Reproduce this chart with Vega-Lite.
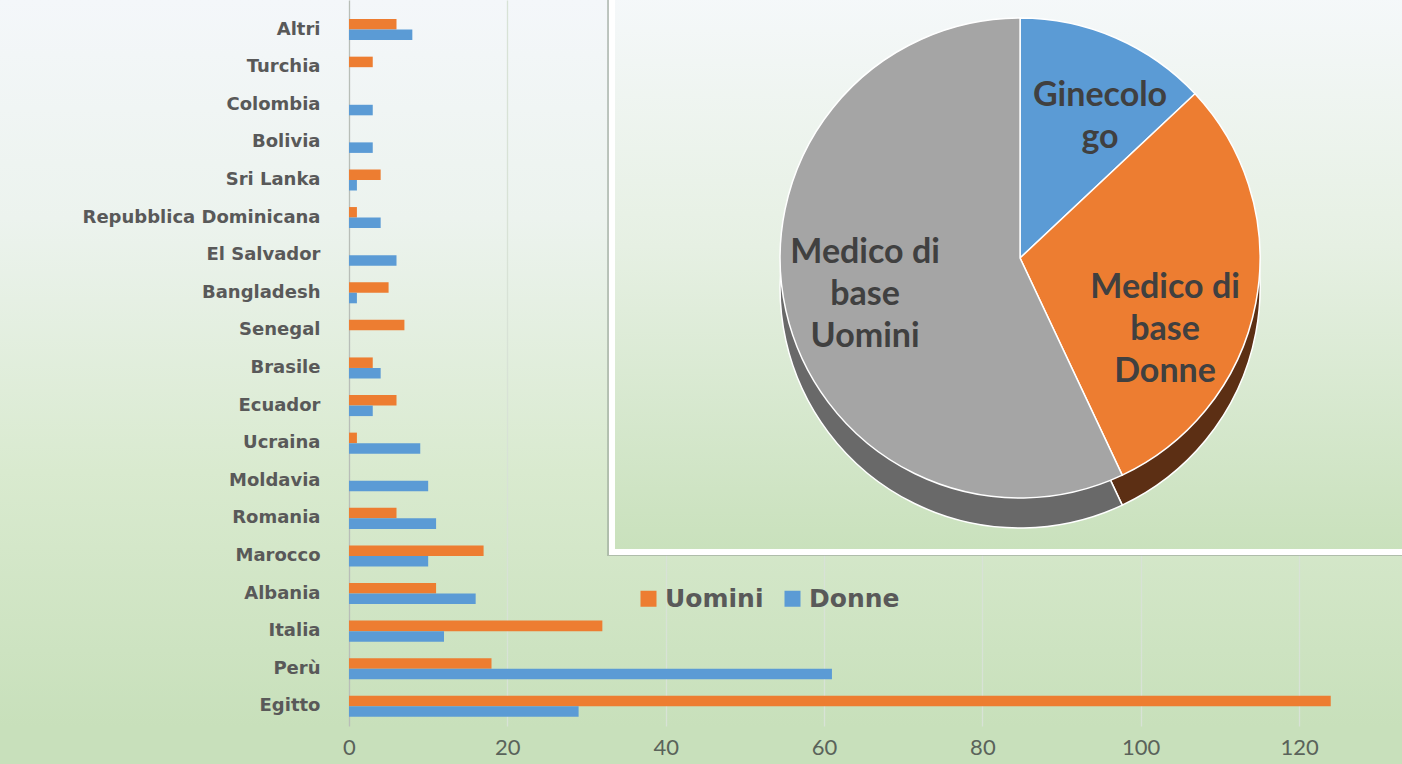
{
  "$schema": "https://vega.github.io/schema/vega-lite/v6.json",
  "width": 1402,
  "height": 726,
  "autosize": {"type": "none"},
  "padding": {"left": 0, "top": 0, "right": 0, "bottom": 38},
  "background": "#c8e0bb",
  "config": {
    "view": {
      "stroke": null,
      "fill": {"gradient": "linear", "x1": 0, "y1": 0, "x2": 0, "y2": 1,
        "stops": [
          {"offset": 0, "color": "#f4f7fa"},
          {"offset": 0.3, "color": "#ecf3ee"},
          {"offset": 0.65, "color": "#d9eacf"},
          {"offset": 1, "color": "#c8e0bb"}
        ]}
    }
  },
  "datasets": {
    "bars": [
      {"paese": "Altri", "sesso": "Uomini", "valore": 6},
      {"paese": "Altri", "sesso": "Donne", "valore": 8},
      {"paese": "Turchia", "sesso": "Uomini", "valore": 3},
      {"paese": "Turchia", "sesso": "Donne", "valore": 0},
      {"paese": "Colombia", "sesso": "Uomini", "valore": 0},
      {"paese": "Colombia", "sesso": "Donne", "valore": 3},
      {"paese": "Bolivia", "sesso": "Uomini", "valore": 0},
      {"paese": "Bolivia", "sesso": "Donne", "valore": 3},
      {"paese": "Sri Lanka", "sesso": "Uomini", "valore": 4},
      {"paese": "Sri Lanka", "sesso": "Donne", "valore": 1},
      {"paese": "Repubblica Dominicana", "sesso": "Uomini", "valore": 1},
      {"paese": "Repubblica Dominicana", "sesso": "Donne", "valore": 4},
      {"paese": "El Salvador", "sesso": "Uomini", "valore": 0},
      {"paese": "El Salvador", "sesso": "Donne", "valore": 6},
      {"paese": "Bangladesh", "sesso": "Uomini", "valore": 5},
      {"paese": "Bangladesh", "sesso": "Donne", "valore": 1},
      {"paese": "Senegal", "sesso": "Uomini", "valore": 7},
      {"paese": "Senegal", "sesso": "Donne", "valore": 0},
      {"paese": "Brasile", "sesso": "Uomini", "valore": 3},
      {"paese": "Brasile", "sesso": "Donne", "valore": 4},
      {"paese": "Ecuador", "sesso": "Uomini", "valore": 6},
      {"paese": "Ecuador", "sesso": "Donne", "valore": 3},
      {"paese": "Ucraina", "sesso": "Uomini", "valore": 1},
      {"paese": "Ucraina", "sesso": "Donne", "valore": 9},
      {"paese": "Moldavia", "sesso": "Uomini", "valore": 0},
      {"paese": "Moldavia", "sesso": "Donne", "valore": 10},
      {"paese": "Romania", "sesso": "Uomini", "valore": 6},
      {"paese": "Romania", "sesso": "Donne", "valore": 11},
      {"paese": "Marocco", "sesso": "Uomini", "valore": 17},
      {"paese": "Marocco", "sesso": "Donne", "valore": 10},
      {"paese": "Albania", "sesso": "Uomini", "valore": 11},
      {"paese": "Albania", "sesso": "Donne", "valore": 16},
      {"paese": "Italia", "sesso": "Uomini", "valore": 32},
      {"paese": "Italia", "sesso": "Donne", "valore": 12},
      {"paese": "Perù", "sesso": "Uomini", "valore": 18},
      {"paese": "Perù", "sesso": "Donne", "valore": 61},
      {"paese": "Egitto", "sesso": "Uomini", "valore": 124},
      {"paese": "Egitto", "sesso": "Donne", "valore": 29}
    ],
    "pie": [
      {"voce": "Ginecologo", "etichetta": "Ginecolo\ngo", "quota": 13},
      {"voce": "Medico di base Donne", "etichetta": "Medico di\nbase\nDonne", "quota": 30},
      {"voce": "Medico di base Uomini", "etichetta": "Medico di\nbase\nUomini", "quota": 57}
    ]
  },
  "resolve": {"scale": {"x": "independent", "y": "independent", "color": "independent"}, "axis": {"x": "independent", "y": "independent"}},
  "layer": [
    {
      "data": {"name": "bars"},
      "mark": {"type": "bar"},
      "encoding": {
        "y": {
          "field": "paese", "type": "nominal",
          "sort": ["Altri", "Turchia", "Colombia", "Bolivia", "Sri Lanka", "Repubblica Dominicana", "El Salvador", "Bangladesh", "Senegal", "Brasile", "Ecuador", "Ucraina", "Moldavia", "Romania", "Marocco", "Albania", "Italia", "Perù", "Egitto"],
          "scale": {"paddingInner": 0.44, "paddingOuter": 0.375, "align": 0.676},
          "axis": {"title": null, "offset": -349, "domain": false, "ticks": false, "grid": false, "labelPadding": 29, "zindex": 1, "labelLimit": 0,
            "labelFont": "DejaVu Sans", "labelFontWeight": "bold", "labelFontSize": 18, "labelColor": "#595959"}
        },
        "yOffset": {"field": "sesso", "type": "nominal", "sort": ["Uomini", "Donne"], "scale": {"paddingInner": 0, "paddingOuter": 0}},
        "x": {
          "field": "valore", "type": "quantitative", "stack": null,
          "scale": {"domain": [-44.08, 133.0], "nice": false, "zero": false},
          "axis": {"title": null, "values": [0, 20, 40, 60, 80, 100, 120], "domain": false, "ticks": false,
            "labelPadding": 11, "labelFont": "Lato", "labelFontSize": 22, "labelColor": "#5a635a",
            "gridColor": {"condition": {"test": "datum.value === 0", "value": "#b8beb8"}, "value": "#d8e2d6"}, "gridWidth": 1.3}
        },
        "x2": {"datum": 0},
        "color": {
          "field": "sesso", "type": "nominal",
          "scale": {"domain": ["Uomini", "Donne"], "range": ["#ed7d31", "#5b9bd5"]},
          "legend": {"title": null, "orient": "none", "legendX": 636, "legendY": 586, "direction": "horizontal",
            "symbolType": "square", "symbolSize": 256, "symbolStrokeWidth": 0, "labelFont": "DejaVu Sans", "labelFontWeight": "bold",
            "labelFontSize": 25, "labelColor": "#595959", "columnPadding": 16, "labelOffset": 4}
        }
      }
    },
    {
      "data": {"name": "pie"},
      "layer": [
        {
          "mark": {"type": "rect", "color": "#9aa69a", "opacity": 0.28},
          "encoding": {
            "x": {"datum": 32.6, "type": "quantitative", "scale": {"domain": [-44.08, 133.0], "nice": false, "zero": false}, "axis": null},
            "x2": {"datum": 134},
            "y": {"datum": 101, "type": "quantitative", "scale": {"domain": [0, 100], "nice": false, "zero": false}, "axis": null},
            "y2": {"datum": 23.4}
          }
        },
        {
          "mark": {"type": "rect", "stroke": "#ffffff", "strokeWidth": 6,
            "color": {"gradient": "linear", "x1": 0, "y1": 0, "x2": 0, "y2": 1,
              "stops": [
                {"offset": 0, "color": "#f5f8fa"},
                {"offset": 0.45, "color": "#e6f0e3"},
                {"offset": 1, "color": "#c9e1bc"}
              ]}},
          "encoding": {
            "x": {"datum": 33.22, "type": "quantitative", "scale": {"domain": [-44.08, 133.0], "nice": false, "zero": false}, "axis": null},
            "x2": {"datum": 134},
            "y": {"datum": 100.5, "type": "quantitative", "scale": {"domain": [0, 100], "nice": false, "zero": false}, "axis": null},
            "y2": {"datum": 23.97}
          }
        },
        {
          "mark": {"type": "arc", "outerRadius": 240, "stroke": "#ffffff", "strokeWidth": 1.5},
          "encoding": {
            "x": {"datum": 84.76, "type": "quantitative", "scale": {"domain": [-44.08, 133.0], "nice": false, "zero": false}, "axis": null},
            "y": {"datum": 60.33, "type": "quantitative", "scale": {"domain": [0, 100], "nice": false, "zero": false}, "axis": null},
            "theta": {"field": "quota", "type": "quantitative", "stack": true},
            "fill": {"field": "voce", "type": "nominal",
              "scale": {"domain": ["Ginecologo", "Medico di base Donne", "Medico di base Uomini"], "range": ["#3a6a96", "#5c2f14", "#696969"]},
              "legend": null}
          }
        },
        {
          "mark": {"type": "arc", "outerRadius": 240, "stroke": "#ffffff", "strokeWidth": 1.5},
          "encoding": {
            "x": {"datum": 84.76, "type": "quantitative", "scale": {"domain": [-44.08, 133.0], "nice": false, "zero": false}, "axis": null},
            "y": {"datum": 64.46, "type": "quantitative", "scale": {"domain": [0, 100], "nice": false, "zero": false}, "axis": null},
            "theta": {"field": "quota", "type": "quantitative", "stack": true},
            "color": {"field": "voce", "type": "nominal",
              "scale": {"domain": ["Ginecologo", "Medico di base Donne", "Medico di base Uomini"], "range": ["#5b9bd5", "#ed7d31", "#a5a5a5"]},
              "legend": null}
          }
        },
        {
          "transform": [{"filter": "datum.voce === 'Ginecologo'"}],
          "mark": {"type": "text", "dx": 80, "dy": -162, "lineBreak": "\n", "font": "Lato", "fontWeight": "bold", "fontSize": 34, "lineHeight": 42, "color": "#404040", "baseline": "middle", "align": "center"},
          "encoding": {
            "x": {"datum": 84.76, "type": "quantitative", "scale": {"domain": [-44.08, 133.0], "nice": false, "zero": false}, "axis": null},
            "y": {"datum": 64.46, "type": "quantitative", "scale": {"domain": [0, 100], "nice": false, "zero": false}, "axis": null},
            "text": {"field": "etichetta", "type": "nominal"}
          }
        },
        {
          "transform": [{"filter": "datum.voce === 'Medico di base Uomini'"}],
          "mark": {"type": "text", "dx": -155, "dy": -5, "lineBreak": "\n", "font": "Lato", "fontWeight": "bold", "fontSize": 34, "lineHeight": 42, "color": "#404040", "baseline": "middle", "align": "center"},
          "encoding": {
            "x": {"datum": 84.76, "type": "quantitative", "scale": {"domain": [-44.08, 133.0], "nice": false, "zero": false}, "axis": null},
            "y": {"datum": 64.46, "type": "quantitative", "scale": {"domain": [0, 100], "nice": false, "zero": false}, "axis": null},
            "text": {"field": "etichetta", "type": "nominal"}
          }
        },
        {
          "transform": [{"filter": "datum.voce === 'Medico di base Donne'"}],
          "mark": {"type": "text", "dx": 145, "dy": 30, "lineBreak": "\n", "font": "Lato", "fontWeight": "bold", "fontSize": 34, "lineHeight": 42, "color": "#404040", "baseline": "middle", "align": "center"},
          "encoding": {
            "x": {"datum": 84.76, "type": "quantitative", "scale": {"domain": [-44.08, 133.0], "nice": false, "zero": false}, "axis": null},
            "y": {"datum": 64.46, "type": "quantitative", "scale": {"domain": [0, 100], "nice": false, "zero": false}, "axis": null},
            "text": {"field": "etichetta", "type": "nominal"}
          }
        }
      ]
    }
  ]
}
